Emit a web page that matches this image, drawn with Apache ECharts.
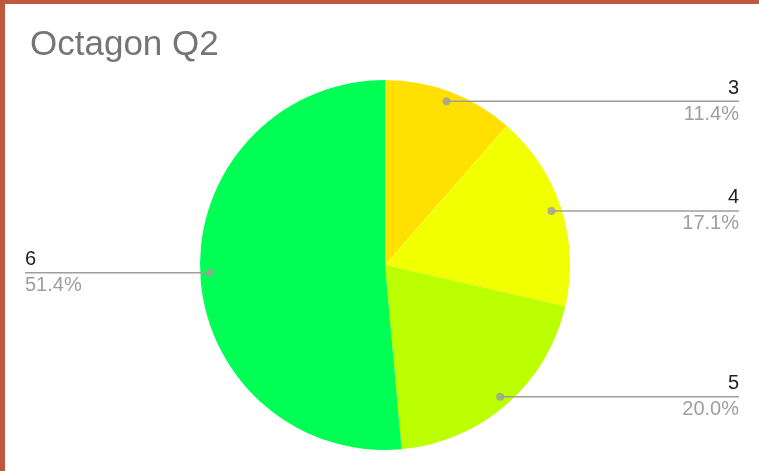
<!DOCTYPE html>
<html>
<head>
<meta charset="utf-8">
<script src="https://cdn.jsdelivr.net/npm/echarts@6/dist/echarts.min.js"></script>
<style>
  html, body { margin: 0; padding: 0; }
  body { width: 759px; height: 471px; background: #c0573f; position: relative; overflow: hidden; }
  #chart { position: absolute; left: 5px; top: 4px; width: 754px; height: 467px; background: #fff; }
</style>
</head>
<body>
<div id="chart"></div>
<script>
// pie data
var names = ['3', '4', '5', '6']
var values = [4, 6, 7, 18]
var colors = ['#ffe000', '#f2ff00', '#bbff00', '#00ff55']

var total = values.reduce(function (a, b) { return a + b }, 0)
// mid angle of each slice (in data units) for the little dots
var dotAngles = []
var acc = 0
values.forEach(function (v) {
  dotAngles.push(acc + v / 2)
  acc += v
})

var center = [380, 261]
var font = 'Liberation Sans, Arial, sans-serif'

var chart = echarts.init(document.getElementById('chart'))
chart.setOption({
  animation: false,
  textStyle: { fontFamily: font },
  title: {
    text: 'Octagon Q2',
    left: 20,
    top: 19,
    textStyle: { fontSize: 35, fontWeight: 'normal', color: '#757575', fontFamily: font },
  },
  polar: { center: center, radius: 185 },
  angleAxis: {
    type: 'value',
    min: 0,
    max: total,
    startAngle: 90,
    clockwise: true,
    axisLine: { show: false },
    axisTick: { show: false },
    axisLabel: { show: false },
    splitLine: { show: false },
  },
  radiusAxis: {
    type: 'value',
    min: 0,
    max: 185,
    axisLine: { show: false },
    axisTick: { show: false },
    axisLabel: { show: false },
    splitLine: { show: false },
  },
  series: [
    {
      type: 'pie',
      center: center,
      radius: 185,
      silent: true,
      z: 1,
      label: { show: false },
      labelLine: { show: false },
      itemStyle: { borderWidth: 0 },
      data: names.map(function (n, i) {
        return { name: n, value: values[i], itemStyle: { color: colors[i] } }
      }),
    },
    {
      // transparent pie only for the labels + lines
      type: 'pie',
      center: center,
      radius: 175,
      silent: true,
      z: 4,
      itemStyle: { color: 'transparent', borderWidth: 0 },
      emphasis: { disabled: true },
      label: {
        show: true,
        position: 'outside',
        alignTo: 'edge',
        edgeDistance: 20,
        formatter: function (p) {
          return '{n|' + p.name + '}\n{p|' + p.percent.toFixed(1) + '%}'
        },
        rich: {
          n: { fontSize: 20, color: '#222222', lineHeight: 26, fontFamily: font },
          p: { fontSize: 20, color: '#9e9e9e', lineHeight: 26, fontFamily: font },
        },
      },
      labelLine: {
        show: true,
        showAbove: true,
        length: 0,
        length2: 20,
        lineStyle: { color: '#9e9e9e', width: 1.5 },
      },
      labelLayout: function (params) {
        var pts = params.labelLinePoints
        var r = params.labelRect
        if (!pts || !r) return {}
        var last = pts[pts.length - 1]
        if (last[0] > pts[0][0]) {
          last[0] = r.x + r.width
        } else {
          last[0] = r.x
        }
        return { labelLinePoints: pts }
      },
      data: names.map(function (n, i) {
        return { name: n, value: values[i] }
      }),
    },
    {
      type: 'scatter',
      coordinateSystem: 'polar',
      symbol: 'circle',
      symbolSize: 8,
      silent: true,
      z: 5,
      itemStyle: { color: '#9e9e9e' },
      data: dotAngles.map(function (a) { return [175, a] }),
    },
  ],
})
</script>
</body>
</html>
